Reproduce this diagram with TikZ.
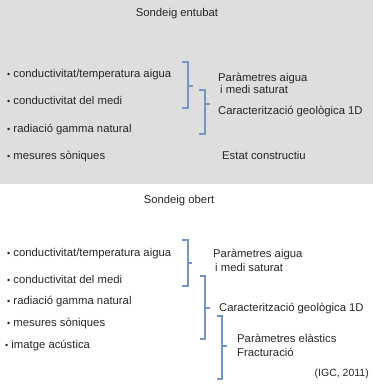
\documentclass[tikz,border=0pt]{standalone}
\usepackage{fontspec}
\setmainfont{Liberation Sans}
\usetikzlibrary{positioning}

\definecolor{boxgray}{RGB}{222,222,222}
\definecolor{bracecol}{RGB}{115,150,198}

\begin{document}
\begin{tikzpicture}[
    x=1pt, y=-1pt,
    font=\fontsize{11.3}{13}\selectfont,
    txt/.style={anchor=base west, inner sep=0pt, text=black!85},
    title/.style={anchor=base, inner sep=0pt, text=black!85},
    brace/.style={draw=bracecol, line width=1.1pt}
  ]
  \useasboundingbox (0,0) rectangle (373,384);

  % Upper panel
  \fill[boxgray] (0,0) rectangle (373,183);
  \draw[black!14, line width=1pt] (0,183) -- (373,183);
  \node[title] (ent) at (177,16) {Sondeig entubat};
  \node[txt] (e1) at (7,77) {{\small•} conductivitat/temperatura aigua};
  \node[txt] (e2) at (7,104) {{\small•} conductivitat del medi};
  \node[txt] (e3) at (7,132) {{\small•} radiació gamma natural};
  \node[txt] (e4) at (7,159) {{\small•} mesures sòniques};

  \node[txt] (ep1) at (218,81) {Paràmetres aigua};
  \node[txt] (ep2) at (220,93) {i medi saturat};
  \node[txt] (ep3) at (218,114) {Caracterització geològica 1D};
  \node[txt] (ep4) at (222,159) {Estat constructiu};

  \draw[brace] (182,62) -| (188,108) -- (182,108) (188,86) -- (193,86);
  \draw[brace] (199,90) -| (205,134) -- (199,134) (205,104) -- (210,104);

  % Lower panel
  \node[title] (obe) at (179,203) {Sondeig obert};
  \node[txt] (o1) at (7,256) {{\small•} conductivitat/temperatura aigua};
  \node[txt] (o2) at (7,283) {{\small•} conductivitat del medi};
  \node[txt] (o3) at (7,304) {{\small•} radiació gamma natural};
  \node[txt] (o4) at (7,326) {{\small•} mesures sòniques};
  \node[txt] (o5) at (5,348) {{\small•} imatge acústica};

  \node[txt] (op1) at (213,257) {Paràmetres aigua};
  \node[txt] (op2) at (215,271) {i medi saturat};
  \node[txt] (op3) at (219,311) {Caracterització geològica 1D};
  \node[txt] (op4) at (237,342) {Paràmetres elàstics};
  \node[txt] (op5) at (237,356) {Fracturació};
  \node[anchor=base east, inner sep=0pt, text=black!85, font=\fontsize{10.5}{12}\selectfont] (src) at (369,376) {(IGC, 2011)};

  \draw[brace] (182,240) -| (188,286) -- (182,286) (188,263) -- (192,263);
  \draw[brace] (200,276) -| (205,339) -- (200,339) (205,308) -- (210,308);
  \draw[brace] (217,316) -| (222,379) -- (217,379) (222,346) -- (227,346);

\end{tikzpicture}
\end{document}
